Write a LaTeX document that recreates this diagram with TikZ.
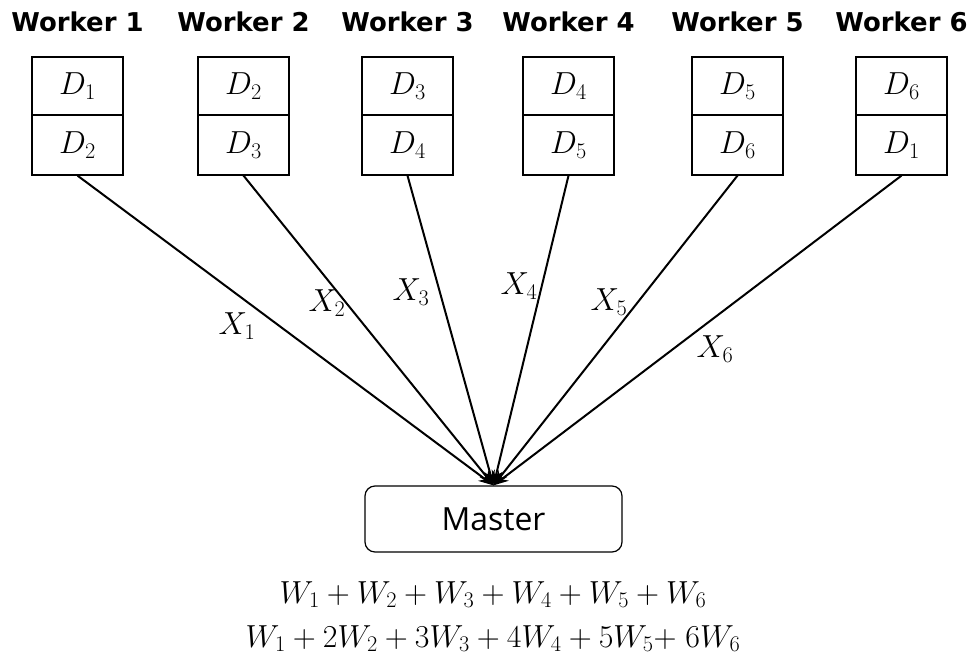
\RequirePackage{fix-cm}
\documentclass[tikz,border=0pt]{standalone}
\usepackage{fontspec}
\newfontfamily\wfont{DejaVu Sans}
\newfontfamily\mfont{Open Sans}
\usetikzlibrary{arrows.meta}
\newcommand\msz{\fontsize{32}{36}\selectfont}
\tikzset{
  cell/.style={draw, line width=1.2bp, minimum width=91bp, inner sep=0pt, font=\msz},
  wlabel/.style={anchor=base, inner sep=0pt, font=\wfont\bfseries\fontsize{26}{30}\selectfont},
  conn/.style={line width=2bp, -{Stealth[length=15bp, width=11bp]}},
  xlab/.style={inner sep=0pt, font=\msz},
  master/.style={draw, line width=1.2bp, rounded corners=10bp, minimum width=257bp, minimum height=66bp, inner sep=0pt, font=\mfont\fontsize{32}{36}\selectfont},
  eq/.style={anchor=base, inner sep=0pt, font=\msz}
}
\begin{document}
\begin{tikzpicture}[x=1bp, y=-1bp]
\useasboundingbox (0,0) rectangle (974,660);
% workers
\foreach \i/\cx/\a/\b in {1/77.5/1/2, 2/243.5/2/3, 3/407.5/3/4, 4/568.5/4/5, 5/737.5/5/6, 6/901.5/6/1}{
  \node[wlabel] (w\i) at (\cx,32) {Worker \i};
  \node[cell, minimum height=58bp] (t\i) at (\cx,86) {$D_{\a}$};
  \node[cell, minimum height=60bp] (b\i) at (\cx,145) {$D_{\b}$};
}
\node[master] (m) at (493.5,519) {Master};
\foreach \i in {1,...,6}{
  \draw[conn] (b\i.south) -- (m.north);
}
\node[xlab] (x1) at (237,326) {$X_1$};
\node[xlab] (x2) at (327,303) {$X_2$};
\node[xlab] (x3) at (411,292) {$X_3$};
\node[xlab] (x4) at (519,286) {$X_4$};
\node[xlab] (x5) at (609,302) {$X_5$};
\node[xlab] (x6) at (715,349) {$X_6$};
\node[eq] (e1) at (493,603) {$W_1+W_2+W_3+W_4+W_5+W_6$};
\node[eq] (e2) at (493,647) {$W_1+2W_2+3W_3+4W_4+5W_5{+}\;6W_6$};
\end{tikzpicture}
\end{document}
